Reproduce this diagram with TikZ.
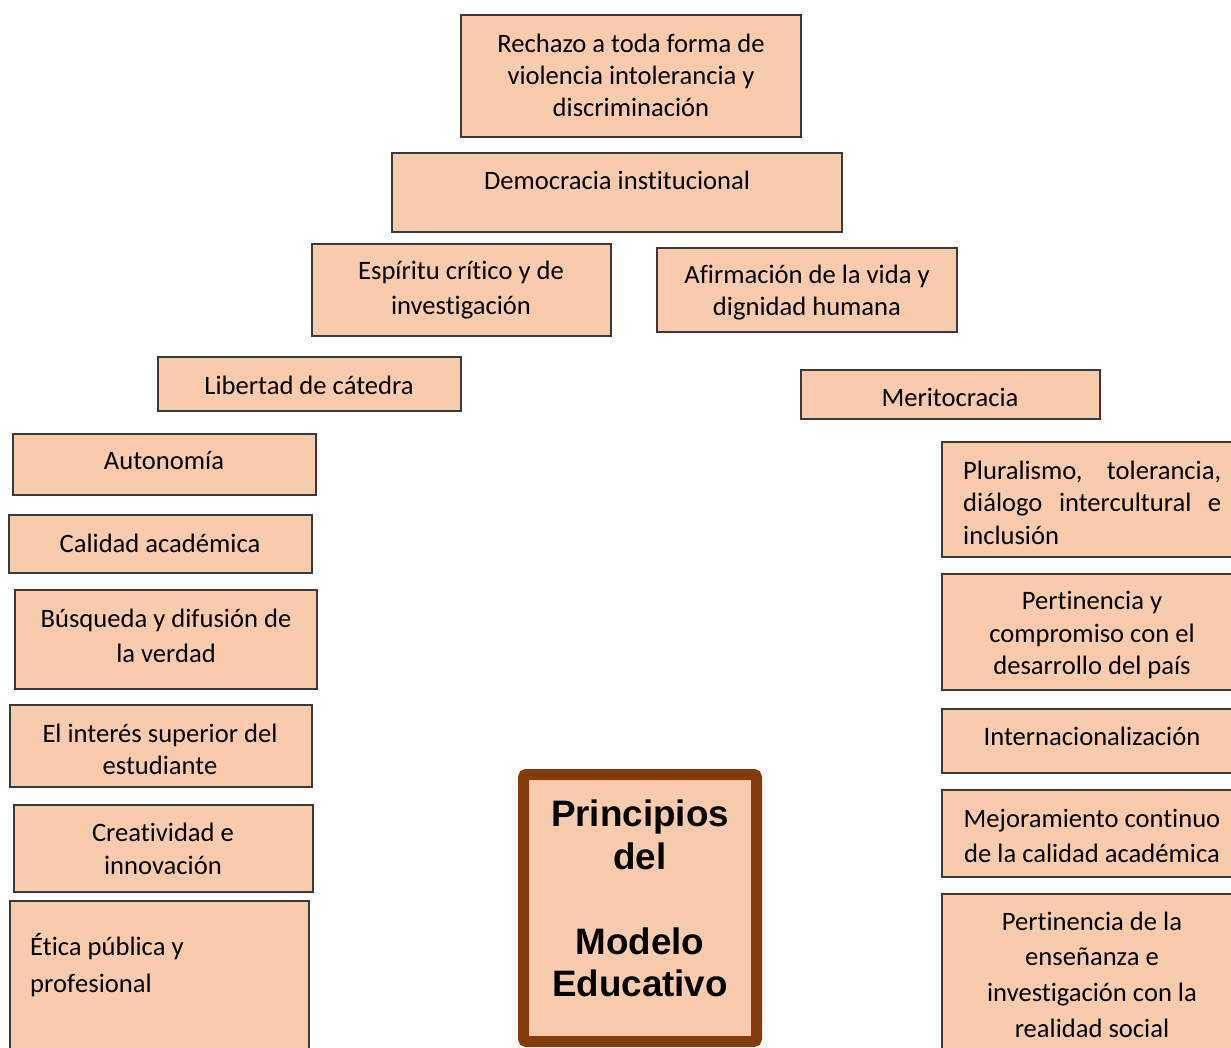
\documentclass[tikz,border=0pt]{standalone}
\usepackage{fontspec}
\setmainfont[Ligatures={NoCommon,NoContextual}]{Carlito}
\newfontfamily\titlefont{Liberation Sans}
\definecolor{boxfill}{HTML}{F8CBAD}
\definecolor{boxline}{HTML}{3A3A3A}
\definecolor{brownline}{HTML}{843C0C}
\tikzset{
  box/.style={draw=boxline, line width=1.2pt, fill=boxfill, outer sep=0pt},
  txt/.style={inner sep=0pt, align=center, font=\fontsize{26.6}{32.5}\selectfont, text=black},
}
\begin{document}
\begin{tikzpicture}[x=1pt,y=-1pt]
\clip (0,0) rectangle (1231,1047);
\fill[white] (0,0) rectangle (1231,1047);
% boxes
\node[box, anchor=north west, minimum width=340pt, minimum height=122pt] (b1) at (461,15) {};
\node[txt, font=\fontsize{26.6}{32}\selectfont] (t1) at (631,75) {Rechazo a toda forma de\\violencia intolerancia y\\discriminación};
\node[box, anchor=north west, minimum width=450pt, minimum height=79pt] (b2) at (392,153) {};
\node[txt] (t2) at (617,180) {Democracia insti\kern0pt tucional};
\node[box, anchor=north west, minimum width=299pt, minimum height=92pt] (b3) at (312,244) {};
\node[txt, font=\fontsize{26.6}{35}\selectfont] (t3) at (461,290.5) {Espíritu críti\kern0pt co y de\\investi\kern0pt gación};
\node[box, anchor=north west, minimum width=300pt, minimum height=84pt] (b4) at (657,248) {};
\node[txt, font=\fontsize{26.6}{32}\selectfont] (t4) at (807,293) {Af\kern0pt irmación de la vida y\\dignidad humana};
\node[box, anchor=north west, minimum width=303pt, minimum height=54pt] (b5) at (158,357) {};
\node[txt] (t5) at (309,385) {Libertad de cátedra};
\node[box, anchor=north west, minimum width=299pt, minimum height=49pt] (b6) at (801,370) {};
\node[txt] (t6) at (950,397) {Meritocracia};
% left column
\node[box, anchor=north west, minimum width=303pt, minimum height=61pt] (b7) at (13,434) {};
\node[txt] (t7) at (164,461) {Autonomía};
\node[box, anchor=north west, minimum width=303pt, minimum height=58pt] (b8) at (9,515) {};
\node[txt] (t8) at (160,543) {Calidad académica};
\node[box, anchor=north west, minimum width=302pt, minimum height=99pt] (b9) at (15,590) {};
\node[txt, font=\fontsize{26.6}{35}\selectfont] (t9) at (166,635.5) {Búsqueda y dif\kern0pt usión de\\la verdad};
\node[box, anchor=north west, minimum width=302pt, minimum height=82pt] (b10) at (10,705) {};
\node[txt, font=\fontsize{26.6}{32}\selectfont] (t10) at (160,749) {El interés superior del\\estudiante};
\node[box, anchor=north west, minimum width=299pt, minimum height=87pt] (b11) at (14,805) {};
\node[txt, font=\fontsize{26.6}{33}\selectfont] (t11) at (163,848.5) {Creati\kern0pt vidad e\\innovación};
\node[box, anchor=north west, minimum width=299pt, minimum height=170pt] (b12) at (10,901) {};
\node[txt, align=left, anchor=west, font=\fontsize{26.6}{37}\selectfont] (t12) at (30,965.5) {Éti\kern0pt ca pública y\\prof\kern0pt esional};
% right column
\node[box, anchor=north west, minimum width=300pt, minimum height=115pt] (b13) at (942,442) {};
\node[txt, align=left, text width=258pt, anchor=west] (t13) at (963,502.5) {Pluralismo,\hfill tolerancia,\\diálogo\hfill intercultural\hfill e\\inclusión};
\node[box, anchor=north west, minimum width=300pt, minimum height=116pt] (b14) at (942,574) {};
\node[txt] (t14) at (1092,635) {Perti\kern0pt nencia y\\compromiso con el\\desarrollo del país};
\node[box, anchor=north west, minimum width=300pt, minimum height=64pt] (b15) at (942,709) {};
\node[txt] (t15) at (1092,736) {Internacionalización};
\node[box, anchor=north west, minimum width=300pt, minimum height=87pt] (b16) at (942,790) {};
\node[txt, font=\fontsize{26.6}{35}\selectfont] (t16) at (1092,835.5) {Mejoramiento conti\kern0pt nuo\\de la calidad académica};
\node[box, anchor=north west, minimum width=300pt, minimum height=170pt] (b17) at (942,894) {};
\node[txt, font=\fontsize{26.6}{35.7}\selectfont] (t17) at (1092,974.5) {Perti\kern0pt nencia de la\\enseñanza e\\investi\kern0pt gación con la\\realidad social};
% center
\node[draw=brownline, line width=11pt, fill=boxfill, rounded corners=3pt, outer sep=0pt, anchor=north west, minimum width=233pt, minimum height=267pt] (c) at (523.5,774.5) {};
\node[txt, font=\titlefont\bfseries\fontsize{36.8}{42.5}\selectfont] (ct) at (640,898.5) {Principios\\del\\~\\Modelo\\Educativo};
\end{tikzpicture}
\end{document}
